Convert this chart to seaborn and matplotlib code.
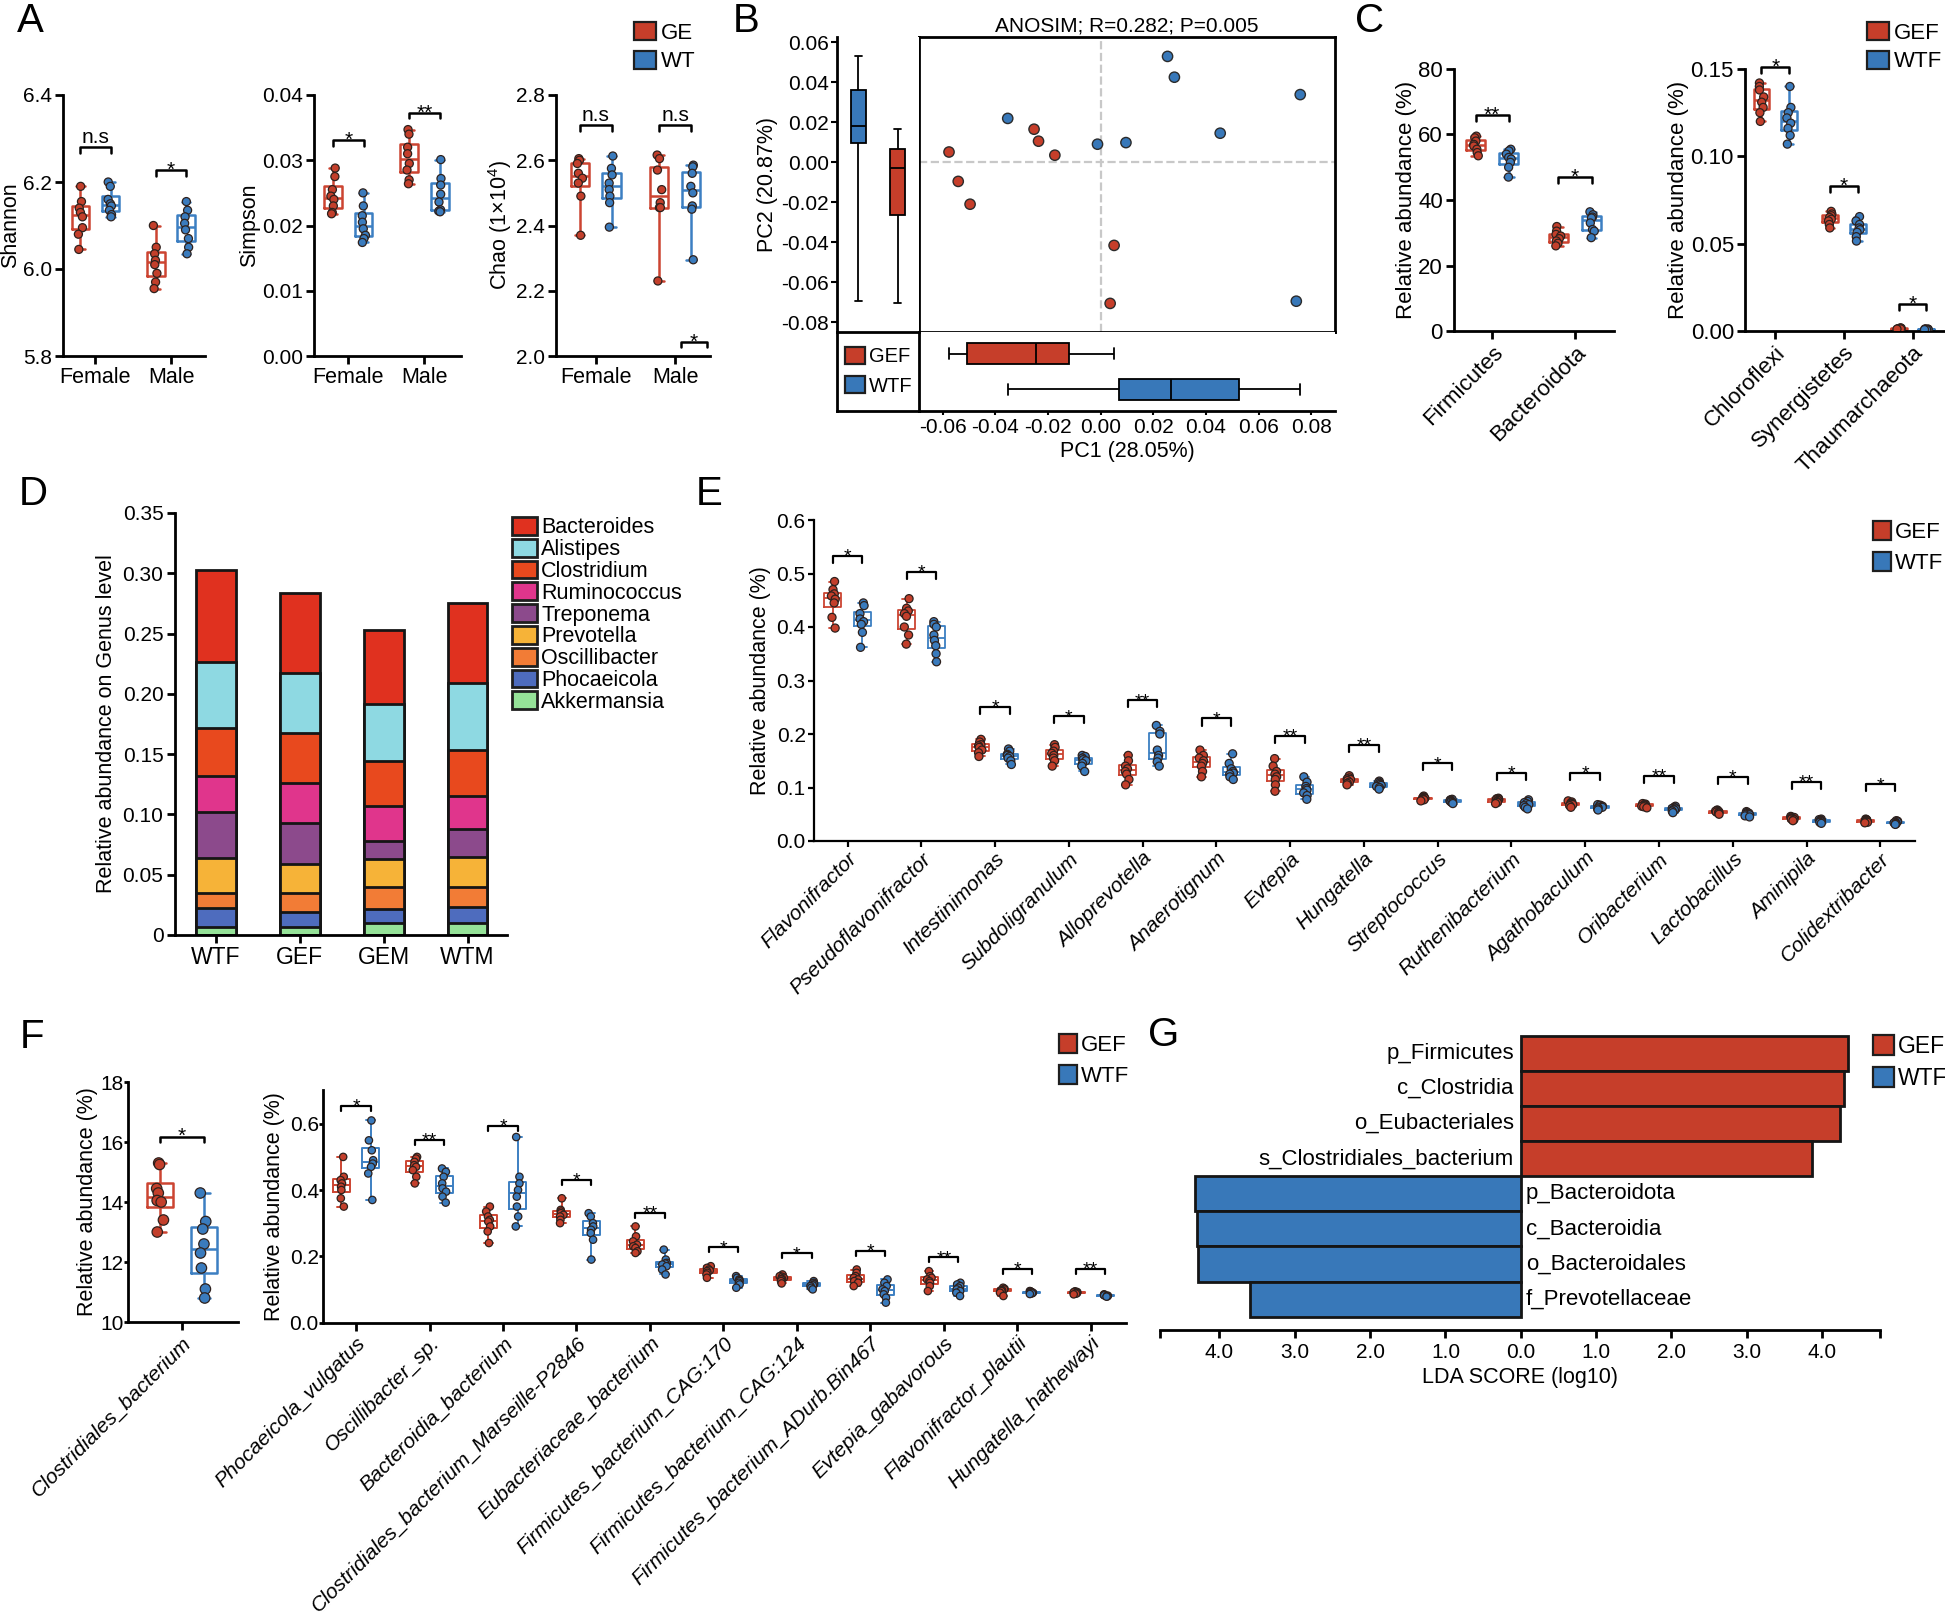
import numpy as np
import pandas as pd
import matplotlib
import matplotlib.pyplot as plt
from matplotlib.patches import Patch
import seaborn as sns

matplotlib.use('Agg')
np.random.seed(3)

# ---------------- data ----------------
# A: alpha diversity
a_sexes = ['Female', 'Male']
shannon_ge = [[6.19, 6.155, 6.14, 6.13, 6.12, 6.095, 6.08, 6.045],
              [6.10, 6.05, 6.035, 6.02, 6.01, 5.99, 5.97, 5.955]]
shannon_wt = [[6.20, 6.19, 6.16, 6.15, 6.145, 6.135, 6.125, 6.12],
              [6.155, 6.135, 6.12, 6.105, 6.09, 6.07, 6.05, 6.035]]
shannon_sig = ['n.s', '*']
shannon_sig_y = [6.28, 6.228]
simpson_ge = [[0.0288, 0.0275, 0.0255, 0.0245, 0.024, 0.023, 0.022, 0.0218],
              [0.0347, 0.034, 0.032, 0.031, 0.0295, 0.0285, 0.027, 0.0264]]
simpson_wt = [[0.025, 0.023, 0.0215, 0.0205, 0.0195, 0.0185, 0.018, 0.0174],
              [0.0301, 0.0272, 0.0262, 0.0248, 0.0236, 0.0224, 0.0222, 0.0221]]
simpson_sig = ['*', '**']
simpson_sig_y = [0.0331, 0.0373]
chao_ge = [[2.605, 2.60, 2.59, 2.56, 2.545, 2.53, 2.49, 2.37],
           [2.616, 2.605, 2.57, 2.51, 2.47, 2.455, 2.455, 2.23]]
chao_wt = [[2.613, 2.575, 2.555, 2.53, 2.51, 2.49, 2.47, 2.395],
           [2.585, 2.58, 2.56, 2.52, 2.50, 2.46, 2.45, 2.295]]
chao_sig = ['n.s', 'n.s']
chao_sig_y = [2.708, 2.708]
chao_extra_sig_y = 2.044

# B: PCA
b_group = ['GEF'] * 8 + ['WTF'] * 8
b_pc1 = [-0.0576, -0.0541, -0.0496, -0.0253, -0.0236, -0.0174, 0.0051, 0.0036,
         -0.0353, -0.0012, 0.0096, 0.0254, 0.0280, 0.0454, 0.0758, 0.0743]
b_pc2 = [0.0050, -0.0097, -0.0211, 0.0164, 0.0104, 0.0034, -0.0417, -0.0707,
         0.0218, 0.0089, 0.0097, 0.0528, 0.0424, 0.0144, 0.0337, -0.0696]

# C: phylum level
c1_taxa = ['Firmicutes', 'Bacteroidota']
c1_gef = [[59.5, 59.0, 58.0, 57.0, 56.5, 55.5, 54.5, 53.5],
          [31.9, 30.5, 29.5, 29.0, 28.2, 27.5, 26.8, 26.0]]
c1_wtf = [[55.5, 55.0, 54.0, 53.0, 52.5, 51.5, 50.0, 47.0],
          [36.4, 35.5, 34.8, 34.5, 33.0, 31.0, 30.5, 28.5]]
c1_sig = ['**', '*']
c1_sig_y = [66.0, 47.0]
c2_taxa = ['Chloroflexi', 'Synergistetes', 'Thaumarchaeota']
c2_gef = [[0.142, 0.140, 0.138, 0.134, 0.131, 0.128, 0.125, 0.120],
          [0.0685, 0.067, 0.066, 0.065, 0.064, 0.063, 0.061, 0.059],
          [0.0018, 0.0016, 0.0015, 0.0014, 0.0013, 0.0012, 0.0012, 0.0011]]
c2_wtf = [[0.140, 0.128, 0.125, 0.122, 0.119, 0.116, 0.112, 0.107],
          [0.0655, 0.063, 0.061, 0.059, 0.058, 0.0565, 0.054, 0.0515],
          [0.0012, 0.0011, 0.0010, 0.0010, 0.0009, 0.0009, 0.0008, 0.0008]]
c2_sig = ['*', '*', '*']
c2_sig_y = [0.151, 0.0831, 0.0155]

# D: genus level stacked bars (top of stack first)
d_samples = ['WTF', 'GEF', 'GEM', 'WTM']
d_genera = ['Bacteroides', 'Alistipes', 'Clostridium', 'Ruminococcus', 'Treponema',
            'Prevotella', 'Oscillibacter', 'Phocaeicola', 'Akkermansia']
bacteroides = [0.0765, 0.0660, 0.0608, 0.0671]
alistipes = [0.0552, 0.0505, 0.0475, 0.0553]
clostridium = [0.0395, 0.0415, 0.0376, 0.0381]
ruminococcus = [0.0301, 0.0332, 0.0290, 0.0276]
treponema = [0.0376, 0.0339, 0.0152, 0.0227]
prevotella = [0.0290, 0.0241, 0.0226, 0.0254]
oscillibacter = [0.0130, 0.0152, 0.0188, 0.0160]
phocaeicola = [0.0152, 0.0124, 0.0116, 0.0138]
akkermansia = [0.0069, 0.0069, 0.0097, 0.0097]

# E: genus differences
e_taxa = ['Flavonifractor', 'Pseudoflavonifractor', 'Intestinimonas', 'Subdoligranulum',
          'Alloprevotella', 'Anaerotignum', 'Evtepia', 'Hungatella', 'Streptococcus',
          'Ruthenibacterium', 'Agathobaculum', 'Oribacterium', 'Lactobacillus',
          'Aminipila', 'Colidextribacter']
e_gef = [[0.485, 0.47, 0.462, 0.458, 0.452, 0.445, 0.418, 0.398],
         [0.453, 0.435, 0.43, 0.425, 0.42, 0.40, 0.385, 0.368],
         [0.19, 0.185, 0.18, 0.178, 0.175, 0.17, 0.165, 0.158],
         [0.18, 0.175, 0.168, 0.164, 0.16, 0.155, 0.15, 0.14],
         [0.16, 0.15, 0.14, 0.135, 0.13, 0.125, 0.115, 0.105],
         [0.17, 0.16, 0.155, 0.15, 0.145, 0.14, 0.13, 0.12],
         [0.154, 0.14, 0.13, 0.125, 0.12, 0.115, 0.105, 0.093],
         [0.122, 0.118, 0.116, 0.115, 0.113, 0.11, 0.108, 0.105],
         [0.084, 0.082, 0.081, 0.08, 0.079, 0.078, 0.077, 0.075],
         [0.08, 0.079, 0.078, 0.077, 0.076, 0.074, 0.072, 0.07],
         [0.075, 0.073, 0.071, 0.07, 0.069, 0.068, 0.066, 0.063],
         [0.07, 0.069, 0.068, 0.067, 0.066, 0.065, 0.064, 0.062],
         [0.058, 0.057, 0.056, 0.055, 0.054, 0.053, 0.052, 0.05],
         [0.046, 0.045, 0.044, 0.043, 0.042, 0.041, 0.04, 0.038],
         [0.041, 0.04, 0.039, 0.038, 0.037, 0.036, 0.035, 0.034]]
e_wtf = [[0.445, 0.44, 0.425, 0.415, 0.41, 0.405, 0.39, 0.362],
         [0.41, 0.405, 0.40, 0.385, 0.375, 0.365, 0.35, 0.335],
         [0.172, 0.168, 0.162, 0.16, 0.158, 0.155, 0.15, 0.143],
         [0.16, 0.158, 0.155, 0.152, 0.15, 0.145, 0.14, 0.13],
         [0.216, 0.205, 0.20, 0.17, 0.16, 0.155, 0.148, 0.14],
         [0.163, 0.145, 0.135, 0.13, 0.127, 0.125, 0.12, 0.115],
         [0.12, 0.11, 0.102, 0.098, 0.095, 0.09, 0.085, 0.078],
         [0.112, 0.11, 0.108, 0.106, 0.104, 0.102, 0.10, 0.097],
         [0.078, 0.077, 0.076, 0.075, 0.074, 0.073, 0.072, 0.07],
         [0.077, 0.074, 0.072, 0.07, 0.068, 0.066, 0.063, 0.06],
         [0.068, 0.067, 0.066, 0.065, 0.063, 0.062, 0.06, 0.058],
         [0.065, 0.063, 0.061, 0.06, 0.059, 0.058, 0.056, 0.053],
         [0.055, 0.053, 0.052, 0.051, 0.05, 0.049, 0.047, 0.045],
         [0.041, 0.04, 0.039, 0.038, 0.037, 0.036, 0.035, 0.033],
         [0.038, 0.037, 0.036, 0.035, 0.034, 0.033, 0.032, 0.031]]
e_sig = ['*', '*', '*', '*', '**', '*', '**', '**', '*', '*', '*', '**', '*', '**', '*']
e_sig_y = [0.533, 0.503, 0.251, 0.233, 0.263, 0.229, 0.196, 0.179, 0.145, 0.128,
           0.128, 0.122, 0.120, 0.110, 0.106]

# F: species level
f1_taxa = ['Clostridiales_bacterium']
f1_gef = [[15.3, 15.25, 14.45, 14.3, 14.05, 14.0, 13.4, 13.0]]
f1_wtf = [[14.3, 13.35, 13.1, 12.6, 12.3, 11.8, 11.1, 10.8]]
f1_sig = ['*']
f1_sig_y = [16.18]
f2_taxa = ['Phocaeicola_vulgatus', 'Oscillibacter_sp.', 'Bacteroidia_bacterium',
           'Clostridiales_bacterium_Marseille-P2846', 'Eubacteriaceae_bacterium',
           'Firmicutes_bacterium_CAG:170', 'Firmicutes_bacterium_CAG:124',
           'Firmicutes_bacterium_ADurb.Bin467', 'Evtepia_gabavorous',
           'Flavonifractor_plautii', 'Hungatella_hathewayi']
f2_gef = [[0.50, 0.44, 0.43, 0.42, 0.41, 0.40, 0.375, 0.35],
          [0.50, 0.495, 0.485, 0.475, 0.47, 0.46, 0.44, 0.42],
          [0.35, 0.335, 0.32, 0.31, 0.305, 0.29, 0.275, 0.24],
          [0.375, 0.34, 0.335, 0.33, 0.325, 0.32, 0.31, 0.30],
          [0.29, 0.26, 0.245, 0.235, 0.23, 0.225, 0.215, 0.21],
          [0.17, 0.165, 0.16, 0.157, 0.155, 0.15, 0.145, 0.135],
          [0.145, 0.14, 0.138, 0.135, 0.132, 0.13, 0.125, 0.118],
          [0.16, 0.15, 0.14, 0.135, 0.13, 0.125, 0.12, 0.11],
          [0.155, 0.14, 0.135, 0.13, 0.125, 0.12, 0.11, 0.095],
          [0.105, 0.102, 0.10, 0.098, 0.097, 0.095, 0.09, 0.08],
          [0.094, 0.093, 0.092, 0.091, 0.09, 0.089, 0.087, 0.085]]
f2_wtf = [[0.61, 0.55, 0.52, 0.49, 0.48, 0.47, 0.45, 0.37],
          [0.465, 0.455, 0.44, 0.42, 0.405, 0.395, 0.38, 0.362],
          [0.56, 0.44, 0.42, 0.40, 0.38, 0.35, 0.32, 0.29],
          [0.33, 0.32, 0.30, 0.29, 0.28, 0.27, 0.25, 0.19],
          [0.22, 0.19, 0.18, 0.178, 0.175, 0.17, 0.16, 0.145],
          [0.14, 0.135, 0.13, 0.128, 0.125, 0.12, 0.115, 0.105],
          [0.125, 0.12, 0.118, 0.115, 0.112, 0.11, 0.105, 0.10],
          [0.13, 0.12, 0.11, 0.10, 0.095, 0.085, 0.075, 0.06],
          [0.12, 0.115, 0.11, 0.105, 0.10, 0.095, 0.09, 0.08],
          [0.095, 0.094, 0.093, 0.092, 0.09, 0.089, 0.088, 0.086],
          [0.085, 0.084, 0.083, 0.082, 0.081, 0.08, 0.079, 0.078]]
f2_sig = ['*', '**', '*', '*', '**', '*', '*', '*', '**', '*', '**']
f2_sig_y = [0.655, 0.552, 0.594, 0.43, 0.33, 0.227, 0.209, 0.217, 0.197, 0.162, 0.162]

# G: LEfSe
g_taxa = ['p_Firmicutes', 'c_Clostridia', 'o_Eubacteriales', 's_Clostridiales_bacterium',
          'p_Bacteroidota', 'c_Bacteroidia', 'o_Bacteroidales', 'f_Prevotellaceae']
g_group = ['GEF', 'GEF', 'GEF', 'GEF', 'WTF', 'WTF', 'WTF', 'WTF']
g_lda = [4.34, 4.29, 4.24, 3.87, 4.33, 4.30, 4.28, 3.59]

# ---------------- style ----------------
W, H = 1945, 1620
RED_LINE, BLUE_LINE = '#cc4431', '#3c7fc2'
RED_DOT, BLUE_DOT = '#c33f2b', '#3a7bbd'
RED_FILL, BLUE_FILL = '#c63e2a', '#3878b9'
DOT_EDGE = '#2e211d'
D_COLORS = ['#e0311f', '#8ed9e2', '#e8491e', '#e0358c', '#8c4a8c',
            '#f6b338', '#f27c36', '#4e6cbe', '#95e298']
TICK_FS = 15
LAB_FS = 15.5

sns.set_style('ticks')
plt.rcParams['font.family'] = ['Liberation Sans', 'DejaVu Sans']
plt.rcParams['mathtext.fontset'] = 'custom'
plt.rcParams['mathtext.rm'] = 'Liberation Sans'
plt.rcParams['mathtext.it'] = 'Liberation Sans:italic'
plt.rcParams['axes.unicode_minus'] = False
for key in ['text.color', 'axes.labelcolor', 'xtick.color', 'ytick.color', 'axes.edgecolor']:
    plt.rcParams[key] = 'black'

fig = plt.figure(figsize=(W / 100, H / 100), dpi=100)


def px_rect(x0, y0, x1, y1):
    return [x0 / W, 1 - y1 / H, (x1 - x0) / W, (y1 - y0) / H]


def long_df(cats, groups):
    rows = []
    for g, vals in groups.items():
        for c, vs in zip(cats, vals):
            rows += [(c, g, v) for v in vs]
    return pd.DataFrame(rows, columns=['cat', 'group', 'value'])


def style(ax, lw=2.0, fs=TICK_FS):
    sns.despine(ax=ax)
    for s in ['left', 'bottom']:
        ax.spines[s].set_linewidth(lw)
    ax.tick_params(width=lw, length=6, labelsize=fs, pad=2)


def boxes(ax, cats, gef, wtf, names=('GEF', 'WTF'), lw=1.8, size=5.8):
    df = long_df(cats, {names[0]: gef, names[1]: wtf})
    sns.boxplot(data=df, x='cat', y='value', hue='group', order=cats, hue_order=list(names),
                palette=[RED_LINE, BLUE_LINE], saturation=1, fill=False, width=0.8, gap=0.42,
                whis=(0, 100), showfliers=False, linewidth=lw, legend=False, ax=ax)
    sns.stripplot(data=df, x='cat', y='value', hue='group', order=cats, hue_order=list(names),
                  palette=[RED_DOT, BLUE_DOT], dodge=True, jitter=0.07, size=size,
                  edgecolor=DOT_EDGE, linewidth=0.9, legend=False, ax=ax, zorder=3)
    ax.set_xlabel('')
    ax.set_ylabel('')


def bracket(ax, x0, x1, y, text, fs=15, lw=1.8):
    lo, hi = ax.get_ylim()
    h = (hi - lo) * 0.022
    ax.plot([x0, x0, x1, x1], [y - h, y, y, y - h], color='black', lw=lw, clip_on=False)
    off = -7 if '*' in text else 0
    ax.annotate(text, ((x0 + x1) / 2, y), xytext=(0, off), textcoords='offset points',
                ha='center', va='bottom', fontsize=fs, annotation_clip=False)


def square_legend(labels, colors, x, y, fs=16, spacing=0.3, hl=1.0, hh=0.9, elw=1.6):
    handles = [Patch(facecolor=c, edgecolor='#1e1e1e', linewidth=elw) for c in colors]
    fig.legend(handles, labels, loc='upper left', bbox_to_anchor=(x / W, 1 - y / H),
               frameon=False, fontsize=fs, handlelength=hl, handleheight=hh,
               handletextpad=0.2, labelspacing=spacing, borderpad=0, borderaxespad=0)


def letter(x, y, s):
    fig.text(x / W, 1 - y / H, s, fontsize=29, ha='left', va='top')


# ---------------- A ----------------
a_specs = [
    ((63, 95, 205, 356), 'Shannon', shannon_ge, shannon_wt, (5.8, 6.4), [5.8, 6.0, 6.2, 6.4], '{:.1f}',
     shannon_sig, shannon_sig_y, (-0.43, 1.45)),
    ((314, 95, 461, 356), 'Simpson', simpson_ge, simpson_wt, (0, 0.04), [0, 0.01, 0.02, 0.03, 0.04], '{:.2f}',
     simpson_sig, simpson_sig_y, (-0.45, 1.48)),
    ((556, 95, 710, 356), 'Chao (1×10$^4$)', chao_ge, chao_wt, (2.0, 2.8), [2.0, 2.2, 2.4, 2.6, 2.8], '{:.1f}',
     chao_sig, chao_sig_y, (-0.5, 1.44)),
]
for rect, lab, ge, wt, ylim, ticks, fmt, sig, sig_y, xlim in a_specs:
    ax = fig.add_axes(px_rect(*rect))
    boxes(ax, a_sexes, ge, wt, names=('GE', 'WT'))
    ax.set_ylim(*ylim)
    ax.set_xlim(*xlim)
    ax.set_yticks(ticks)
    ax.set_yticklabels([fmt.format(t) for t in ticks])
    ax.set_ylabel(lab, fontsize=LAB_FS, labelpad=1)
    style(ax)
    ax.tick_params(axis='x', labelsize=15.5)
    for i, (s, y) in enumerate(zip(sig, sig_y)):
        bracket(ax, i - 0.2, i + 0.2, y, s)
    if lab.startswith('Chao'):
        bracket(ax, 1.07, 1.40, chao_extra_sig_y, '*')
square_legend(['GE', 'WT'], [RED_FILL, BLUE_FILL], 634, 22)
letter(17, 2, 'A')

# ---------------- B ----------------
df_b = pd.DataFrame({'group': b_group, 'pc1': b_pc1, 'pc2': b_pc2})
b_pal = {'GEF': RED_FILL, 'WTF': BLUE_FILL}
b_xlim, b_ylim = (-0.069, 0.089), (-0.085, 0.0625)

axm = fig.add_axes(px_rect(919, 37, 1335, 332))
sns.scatterplot(data=df_b, x='pc1', y='pc2', hue='group', palette=b_pal, s=55,
                edgecolor='#2b2b2b', linewidth=1.0, legend=False, ax=axm, zorder=3)
axm.axhline(0, color='#c8c8c8', ls='--', lw=1.6, zorder=1)
axm.axvline(0, color='#c8c8c8', ls='--', lw=1.6, zorder=1)
axm.set_xlim(*b_xlim)
axm.set_ylim(*b_ylim)
axm.set_xticks([])
axm.set_yticks([])
axm.set_xlabel('')
axm.set_ylabel('')
for s in axm.spines.values():
    s.set_linewidth(2)
axm.set_title('ANOSIM; R=0.282; P=0.005', fontsize=15, pad=4)

axl = fig.add_axes(px_rect(837, 37, 919, 332))
sns.boxplot(data=df_b, x='group', y='pc2', hue='group', order=['WTF', 'GEF'], palette=b_pal,
            saturation=1, linecolor='black', linewidth=1.3, width=0.405, whis=(0, 100),
            showfliers=False, legend=False, ax=axl)
axl.set_ylim(*b_ylim)
axl.set_xlim(-0.55, 1.55)
axl.set_yticks([-0.08, -0.06, -0.04, -0.02, 0.0, 0.02, 0.04, 0.06])
axl.set_yticklabels(['{:.2f}'.format(t) for t in axl.get_yticks()])
axl.set_xticks([])
axl.set_xlabel('')
axl.set_ylabel('PC2 (20.87%)', fontsize=LAB_FS, labelpad=2)
sns.despine(ax=axl, bottom=True)
axl.spines['left'].set_linewidth(2)
axl.tick_params(axis='y', width=1.5, length=4, labelsize=TICK_FS, pad=2)

axb = fig.add_axes(px_rect(919, 332, 1335, 411))
sns.boxplot(data=df_b, x='pc1', y='group', hue='group', order=['GEF', 'WTF'], palette=b_pal,
            saturation=1, orient='h', linecolor='black', linewidth=1.3, width=0.585,
            whis=(0, 100), showfliers=False, legend=False, ax=axb)
axb.set_xlim(*b_xlim)
axb.set_ylim(1.6, -0.6)
axb.set_xticks([-0.06, -0.04, -0.02, 0.0, 0.02, 0.04, 0.06, 0.08])
axb.set_xticklabels(['{:.2f}'.format(t) for t in axb.get_xticks()])
axb.set_yticks([])
axb.set_ylabel('')
axb.set_xlabel('PC1 (28.05%)', fontsize=LAB_FS, labelpad=3)
sns.despine(ax=axb, left=True)
axb.spines['bottom'].set_linewidth(2)
axb.tick_params(axis='x', width=1.5, length=3, labelsize=TICK_FS, pad=2)

axg = fig.add_axes(px_rect(837, 332, 919, 411))
axg.set_xticks([])
axg.set_yticks([])
for s in axg.spines.values():
    s.set_linewidth(2)
square_legend(['GEF', 'WTF'], [RED_FILL, BLUE_FILL], 845, 347, fs=14.5, spacing=0.5)
letter(733, 2, 'B')

# ---------------- C ----------------
ax = fig.add_axes(px_rect(1454, 69, 1614, 331))
boxes(ax, c1_taxa, c1_gef, c1_wtf)
ax.set_ylim(0, 80)
ax.set_xlim(-0.46, 1.47)
ax.set_yticks([0, 20, 40, 60, 80])
ax.set_ylabel('Relative abundance (%)', fontsize=16, labelpad=1)
style(ax, fs=16)
ax.set_xticks(range(len(c1_taxa)))
ax.set_xticklabels(c1_taxa, rotation=45, ha='right', rotation_mode='anchor', fontsize=16)
for i, (s, y) in enumerate(zip(c1_sig, c1_sig_y)):
    bracket(ax, i - 0.2, i + 0.2, y, s)

ax = fig.add_axes(px_rect(1745, 69, 1945, 331))
boxes(ax, c2_taxa, c2_gef, c2_wtf)
ax.set_ylim(0, 0.15)
ax.set_xlim(-0.44, 2.47)
ax.set_yticks([0, 0.05, 0.10, 0.15])
ax.set_yticklabels(['0.00', '0.05', '0.10', '0.15'])
ax.set_ylabel('Relative abundance (%)', fontsize=16, labelpad=1)
style(ax, fs=16)
ax.set_xticks(range(len(c2_taxa)))
ax.set_xticklabels(c2_taxa, rotation=45, ha='right', rotation_mode='anchor', fontsize=16)
for i, (s, y) in enumerate(zip(c2_sig, c2_sig_y)):
    bracket(ax, i - 0.2, i + 0.2, y, s)
square_legend(['GEF', 'WTF'], [RED_FILL, BLUE_FILL], 1867, 22, fs=16)
letter(1355, 2, 'C')

# ---------------- D ----------------
ax = fig.add_axes(px_rect(174.5, 513, 507, 935))
d_abund = np.array([bacteroides, alistipes, clostridium, ruminococcus, treponema,
                    prevotella, oscillibacter, phocaeicola, akkermansia])
d_tops = np.cumsum(d_abund[::-1], axis=0)[::-1]
for tops, col in zip(d_tops, D_COLORS):
    sns.barplot(x=d_samples, y=tops, color=col, saturation=1, width=0.475, edgecolor='#151515',
                linewidth=2, errorbar=None, ax=ax)
ax.set_ylim(0, 0.35)
ax.set_xlim(-0.49, 3.47)
d_ticks = [0, 0.05, 0.10, 0.15, 0.20, 0.25, 0.30, 0.35]
ax.set_yticks(d_ticks)
ax.set_yticklabels(['0'] + ['{:.2f}'.format(t) for t in d_ticks[1:]])
ax.set_ylabel('Relative abundance on Genus level', fontsize=LAB_FS, labelpad=4)
style(ax, fs=TICK_FS)
ax.tick_params(axis='x', labelsize=16.5)
square_legend(d_genera, D_COLORS, 512, 517, fs=15.5, spacing=0.02, hl=1.15, hh=0.9, elw=2)
letter(19, 475, 'D')

# ---------------- E ----------------
ax = fig.add_axes(px_rect(814, 520, 1915, 841))
boxes(ax, e_taxa, e_gef, e_wtf, lw=1.3, size=5.8)
ax.set_ylim(0, 0.6)
ax.set_xlim(-0.455, 14.47)
ax.set_yticks([0, 0.1, 0.2, 0.3, 0.4, 0.5, 0.6])
ax.set_yticklabels(['{:.1f}'.format(t) for t in ax.get_yticks()])
ax.set_ylabel('Relative abundance (%)', fontsize=LAB_FS, labelpad=4)
style(ax, lw=1.6, fs=TICK_FS)
ax.tick_params(length=4)
ax.set_xticks(range(len(e_taxa)))
ax.set_xticklabels(e_taxa, rotation=45, ha='right', rotation_mode='anchor',
                   fontsize=15, style='italic')
for i, (s, y) in enumerate(zip(e_sig, e_sig_y)):
    bracket(ax, i - 0.2, i + 0.2, y, s, fs=14, lw=1.6)
square_legend(['GEF', 'WTF'], [RED_FILL, BLUE_FILL], 1873, 521, spacing=0.4, hl=0.8, hh=0.95)
letter(696, 475, 'E')

# ---------------- F ----------------
ax = fig.add_axes(px_rect(128, 1082, 238, 1322))
boxes(ax, f1_taxa, f1_gef, f1_wtf, size=7.5)
ax.set_ylim(10, 18)
ax.set_xlim(-0.49, 0.51)
ax.set_yticks([10, 12, 14, 16, 18])
ax.set_ylabel('Relative abundance (%)', fontsize=LAB_FS, labelpad=2)
style(ax, fs=TICK_FS)
ax.tick_params(axis='y', length=3, pad=0)
ax.set_xticks([0])
ax.set_xticklabels(f1_taxa, rotation=45, ha='right', rotation_mode='anchor',
                   fontsize=15, style='italic')
bracket(ax, -0.2, 0.2, f1_sig_y[0], f1_sig[0])

ax = fig.add_axes(px_rect(323, 1090, 1126, 1322.5))
boxes(ax, f2_taxa, f2_gef, f2_wtf, lw=1.4, size=5.3)
ax.set_ylim(0, 0.702)
ax.set_xlim(-0.45, 10.48)
ax.set_yticks([0, 0.2, 0.4, 0.6])
ax.set_yticklabels(['0.0', '0.2', '0.4', '0.6'])
ax.set_ylabel('Relative abundance (%)', fontsize=LAB_FS, labelpad=3)
style(ax, fs=TICK_FS)
ax.tick_params(axis='y', length=3, pad=0)
ax.set_xticks(range(len(f2_taxa)))
ax.set_xticklabels(f2_taxa, rotation=45, ha='right', rotation_mode='anchor',
                   fontsize=15, style='italic')
for i, (s, y) in enumerate(zip(f2_sig, f2_sig_y)):
    bracket(ax, i - 0.2, i + 0.2, y, s, fs=14, lw=1.6)
square_legend(['GEF', 'WTF'], [RED_FILL, BLUE_FILL], 1059, 1034, spacing=0.4, hl=0.8, hh=0.95)
letter(20, 1018, 'F')

# ---------------- G ----------------
ax = fig.add_axes(px_rect(1160, 1030, 1880, 1330))
g_signed = [v if g == 'GEF' else -v for v, g in zip(g_lda, g_group)]
sns.barplot(x=g_signed, y=g_taxa, hue=g_group, palette={'GEF': RED_FILL, 'WTF': BLUE_FILL},
            saturation=1, orient='h', dodge=False, width=1.0, edgecolor='#151515', linewidth=2,
            errorbar=None, legend=False, ax=ax)
ax.set_xlim(-4.79, 4.77)
ax.set_ylim(7.88, -0.67)
for i, (lab, g) in enumerate(zip(g_taxa, g_group)):
    if g == 'GEF':
        ax.text(-0.09, i, lab, ha='right', va='center', fontsize=16)
    else:
        ax.text(0.07, i, lab, ha='left', va='center', fontsize=16)
g_ticks = [-4, -3, -2, -1, 0, 1, 2, 3, 4]
ax.set_xticks(g_ticks)
ax.set_xticklabels(['{:.1f}'.format(abs(t)) for t in g_ticks])
ax.set_xticks([-4.79, 4.77], minor=True)
ax.set_yticks([])
ax.set_ylabel('')
ax.set_xlabel('LDA SCORE (log10)', fontsize=LAB_FS, labelpad=4)
sns.despine(ax=ax, left=True)
ax.spines['bottom'].set_linewidth(2)
ax.tick_params(axis='x', which='both', width=2, length=6, labelsize=TICK_FS, pad=3)
square_legend(['GEF', 'WTF'], [RED_FILL, BLUE_FILL], 1873, 1035, fs=16.5, spacing=0.4, hl=0.9, hh=0.95)
letter(1148, 1016, 'G')

fig.savefig('out.png', dpi=100)
